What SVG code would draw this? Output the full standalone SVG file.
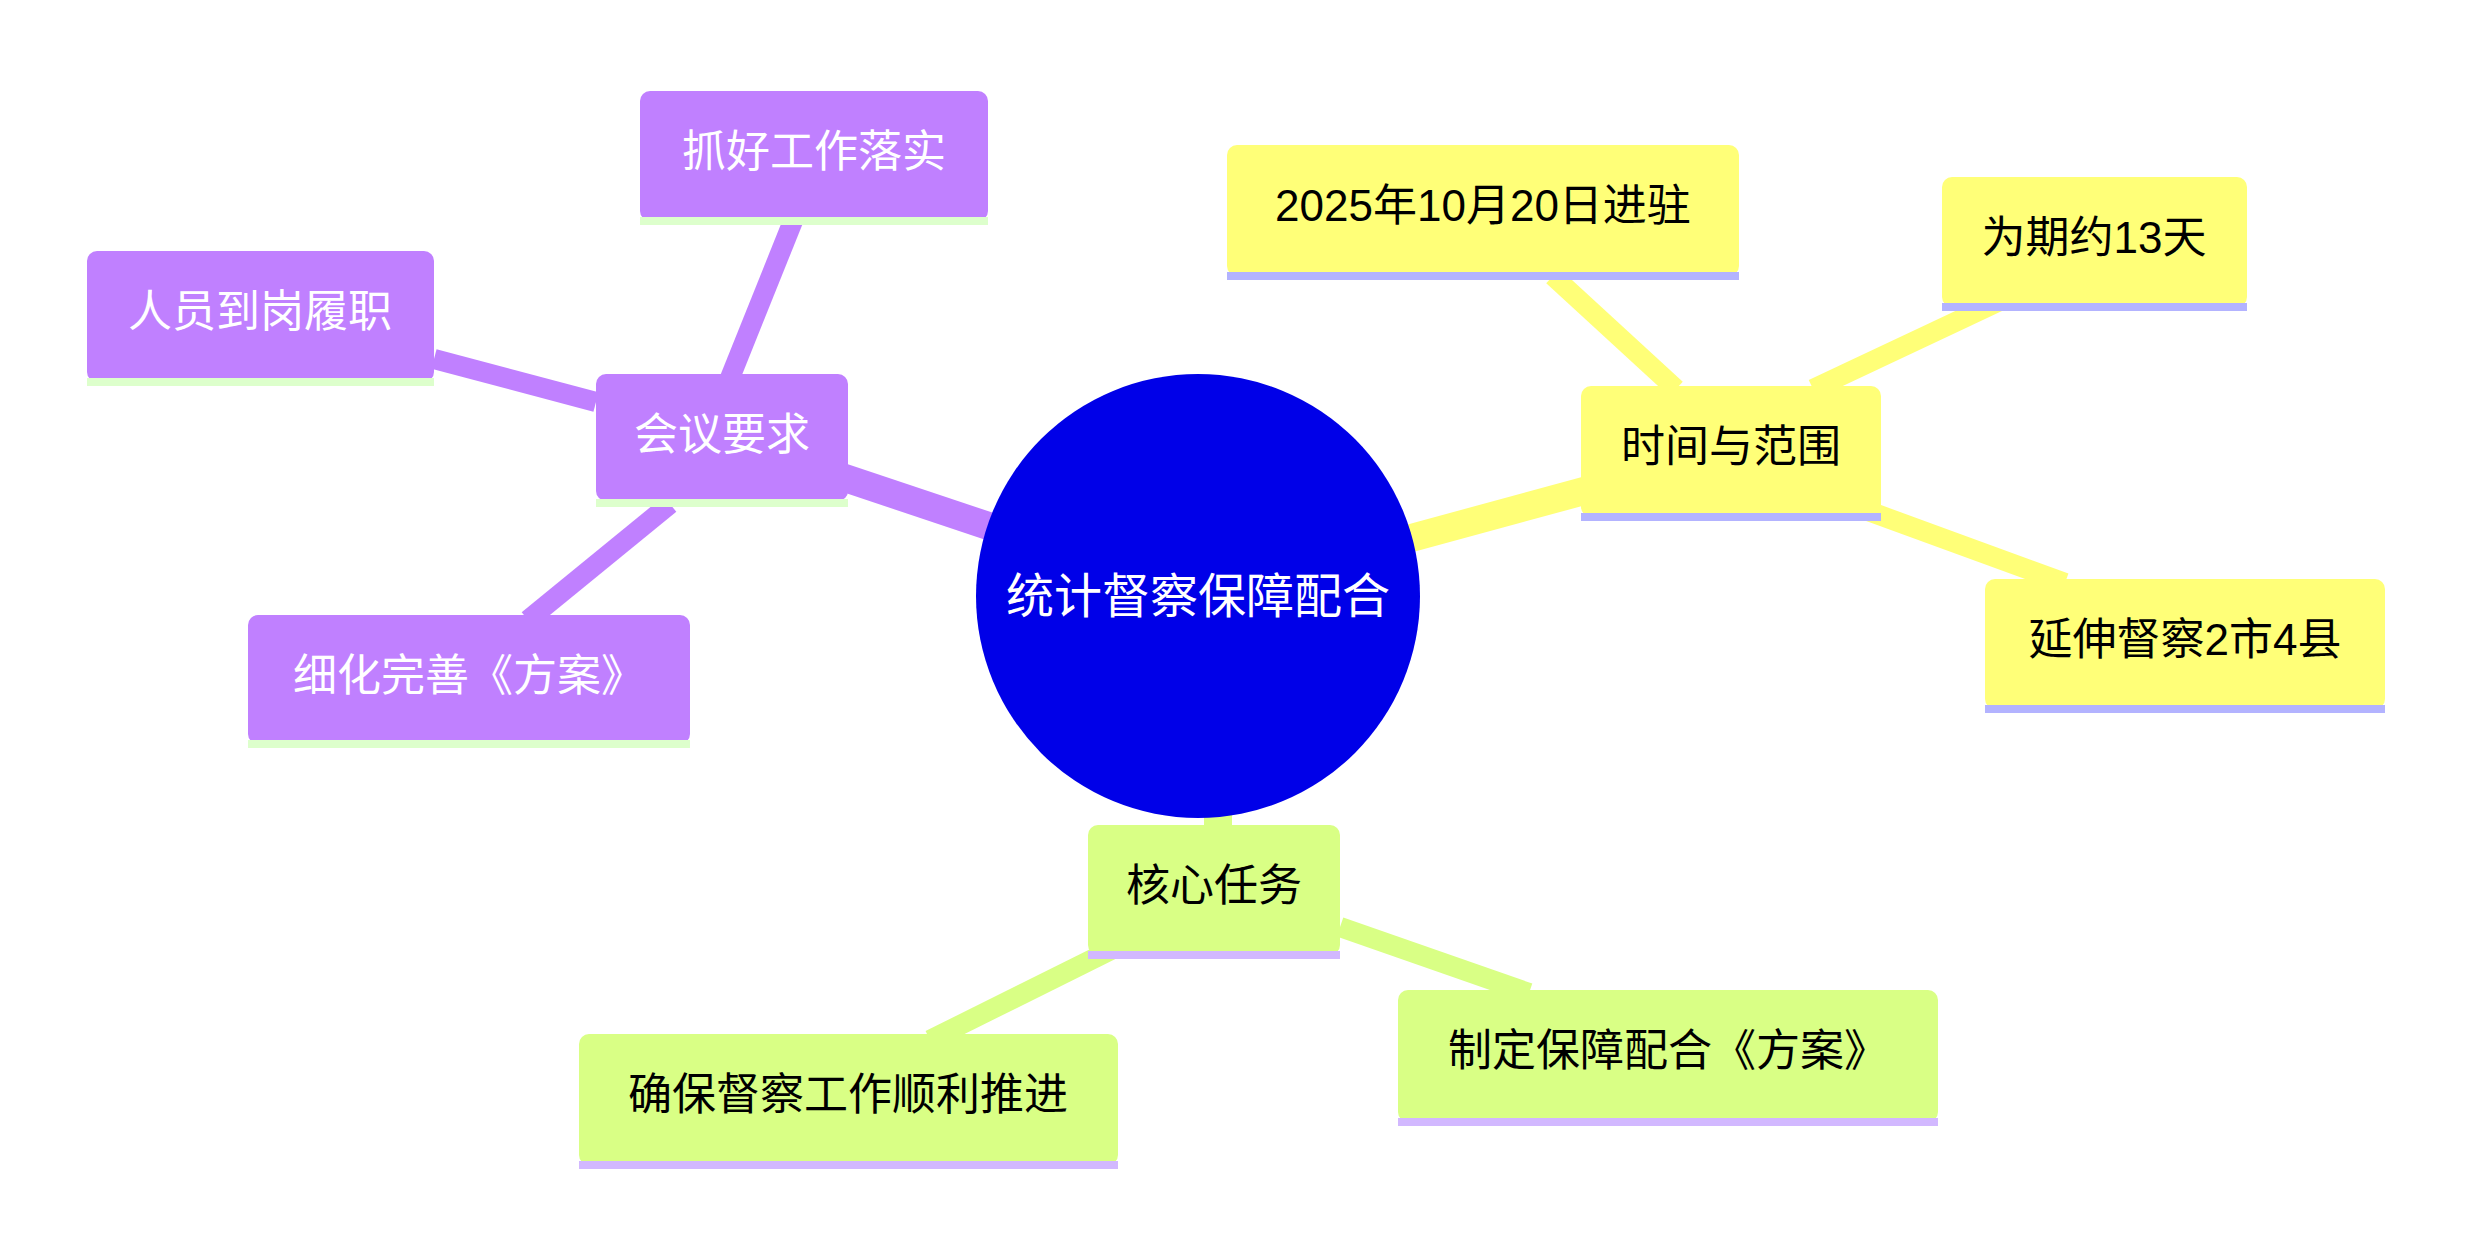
<svg xmlns="http://www.w3.org/2000/svg" width="2472" height="1244" viewBox="0 0 2472 1244">
<style>
text{font-family:"Liberation Sans","Noto Sans CJK SC",sans-serif;font-size:44px;text-anchor:middle;dominant-baseline:central}
.p rect.b{fill:#c080ff}.y rect.b{fill:#ffff78}.g rect.b{fill:#d9ff85}
.p rect.u{fill:#ddffcc}.y rect.u{fill:#b3b3ff}.g rect.u{fill:#d2b8ff}
.p text{fill:#fff}.y text,.g text{fill:#000}
.lp{stroke:#c080ff}.ly{stroke:#ffff78}.lg{stroke:#d9ff85}
</style>
<rect width="2472" height="1244" fill="#fff"/>
<g id="connectors" fill="none" stroke-linecap="butt">
<line class="lp" x1="1198" y1="596" x2="722" y2="437" stroke-width="28"/>
<line class="ly" x1="1198" y1="596" x2="1731" y2="451" stroke-width="28"/>
<line class="lg" x1="1218" y1="596" x2="1218" y2="890" stroke-width="28"/>
<line class="lp" x1="730" y1="378" x2="793" y2="221" stroke-width="20"/>
<line class="lp" x1="596" y1="402" x2="434" y2="359" stroke-width="20"/>
<line class="lp" x1="670" y1="504" x2="528" y2="620" stroke-width="20"/>
<line class="ly" x1="1676" y1="389" x2="1553" y2="276" stroke-width="20"/>
<line class="ly" x1="1813" y1="389" x2="2002" y2="300" stroke-width="20"/>
<line class="ly" x1="1860" y1="508" x2="2065" y2="583" stroke-width="20"/>
<line class="lg" x1="1119" y1="946" x2="930" y2="1040" stroke-width="20"/>
<line class="lg" x1="1340" y1="927" x2="1529" y2="993" stroke-width="20"/>
</g>
<g id="root"><circle cx="1198" cy="596" r="222" fill="#0000e8"/><text x="1198" y="596" fill="#fff" font-size="48" style="font-size:48px">统计督察保障配合</text></g>
<g id="n1" class="p"><rect class="b" x="596" y="374" width="252" height="127" rx="10"/><rect class="u" x="596" y="499" width="252" height="8"/><text x="722" y="434">会议要求</text></g>
<g id="n2" class="p"><rect class="b" x="640" y="91" width="348" height="130" rx="10"/><rect class="u" x="640" y="217" width="348" height="8"/><text x="814" y="151">抓好工作落实</text></g>
<g id="n3" class="p"><rect class="b" x="87" y="251" width="347" height="131" rx="10"/><rect class="u" x="87" y="378" width="347" height="8"/><text x="260" y="311">人员到岗履职</text></g>
<g id="n4" class="p"><rect class="b" x="248" y="615" width="442" height="129" rx="10"/><rect class="u" x="248" y="740" width="442" height="8"/><text x="469" y="675">细化完善《方案》</text></g>
<g id="n5" class="y"><rect class="b" x="1581" y="386" width="300" height="131" rx="10"/><rect class="u" x="1581" y="513" width="300" height="8"/><text x="1731" y="446">时间与范围</text></g>
<g id="n6" class="y"><rect class="b" x="1227" y="145" width="512" height="131" rx="10"/><rect class="u" x="1227" y="272" width="512" height="8"/><text x="1483" y="205">2025年10月20日进驻</text></g>
<g id="n7" class="y"><rect class="b" x="1942" y="177" width="305" height="130" rx="10"/><rect class="u" x="1942" y="303" width="305" height="8"/><text x="2094" y="237">为期约13天</text></g>
<g id="n8" class="y"><rect class="b" x="1985" y="579" width="400" height="130" rx="10"/><rect class="u" x="1985" y="705" width="400" height="8"/><text x="2185" y="639">延伸督察2市4县</text></g>
<g id="n9" class="g"><rect class="b" x="1088" y="825" width="252" height="130" rx="10"/><rect class="u" x="1088" y="951" width="252" height="8"/><text x="1214" y="885">核心任务</text></g>
<g id="n10" class="g"><rect class="b" x="579" y="1034" width="539" height="131" rx="10"/><rect class="u" x="579" y="1161" width="539" height="8"/><text x="848" y="1094">确保督察工作顺利推进</text></g>
<g id="n11" class="g"><rect class="b" x="1398" y="990" width="540" height="132" rx="10"/><rect class="u" x="1398" y="1118" width="540" height="8"/><text x="1668" y="1050">制定保障配合《方案》</text></g>
</svg>
